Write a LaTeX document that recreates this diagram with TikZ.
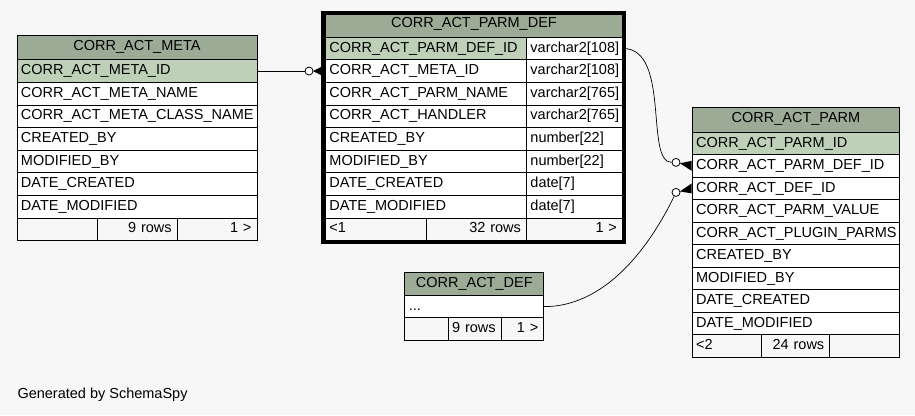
\documentclass[tikz,border=0pt]{standalone}
\usepackage{fontspec}
\setmainfont{Liberation Sans}
\usetikzlibrary{calc}
\definecolor{bgc}{HTML}{F7F7F7}
\definecolor{hdr}{HTML}{9BAB96}
\definecolor{pkc}{HTML}{BED1B8}
\newcommand\cellfont{\fontsize{14.5}{17}\selectfont}
\begin{document}
\begin{tikzpicture}[x=1pt,y=-1pt,
 cell/.style={draw=black, line width=0.9pt, anchor=north west, inner xsep=4pt, inner ysep=0pt, text height=15pt, text depth=7.6pt, font=\cellfont, fill=white, align=left},
 hdrcell/.style={cell, fill=hdr, align=center},
 pkcell/.style={cell, fill=pkc},
 footr/.style={cell, fill=bgc, align=right, inner xsep=5.5pt},
 footl/.style={cell, fill=bgc},
 odot/.style={circle, draw=black, fill=white, line width=0.8pt, inner sep=0pt, minimum size=8pt},
 link/.style={draw=black, line width=0.7pt},
 crow/.style={fill=black}
]
\useasboundingbox (0,0) rectangle (915,415);
\fill[bgc] (0,0) rectangle (915,415);

% ---------------- CORR_ACT_META ----------------
\node[hdrcell, text width=232pt, text depth=9.3pt] (meta_h) at (16.5,35) {CORR\_ACT\_META};
\node[pkcell, text width=232pt] (meta_id) at (16.5,59.3) {CORR\_ACT\_META\_ID};
\node[cell, text width=232pt] (meta_name) at (16.5,81.9) {CORR\_ACT\_META\_NAME};
\node[cell, text width=232pt] (meta_class) at (16.5,104.5) {CORR\_ACT\_META\_CLASS\_NAME};
\node[cell, text width=232pt] (meta_cb) at (16.5,127.1) {CREATED\_BY};
\node[cell, text width=232pt] (meta_mb) at (16.5,149.7) {MODIFIED\_BY};
\node[cell, text width=232pt] (meta_dc) at (16.5,172.3) {DATE\_CREATED};
\node[cell, text width=232pt] (meta_dm) at (16.5,194.9) {DATE\_MODIFIED};
\node[footl, text width=72.2pt] (meta_f1) at (16.5,217.5) {};
\node[footr, text width=69pt] (meta_f2) at (96.7,217.5) {\llap{9 rows}};
\node[footr, text width=68.8pt] (meta_f3) at (176.7,217.5) {\llap{1 >}};

% ---------------- CORR_ACT_PARM_DEF ----------------
\node[hdrcell, text width=289pt, text height=13pt, text depth=9.4pt] (pdef_h) at (325,14.3) {CORR\_ACT\_PARM\_DEF};
\node[pkcell, text width=193pt] (pdef_id) at (325,36.7) {CORR\_ACT\_PARM\_DEF\_ID};
\node[cell, text width=88pt] (pdef_idt) at (526,36.7) {varchar2[108]};
\node[cell, text width=193pt] (pdef_meta) at (325,59.3) {CORR\_ACT\_META\_ID};
\node[cell, text width=88pt] (pdef_metat) at (526,59.3) {varchar2[108]};
\node[cell, text width=193pt] (pdef_name) at (325,81.9) {CORR\_ACT\_PARM\_NAME};
\node[cell, text width=88pt] (pdef_namet) at (526,81.9) {varchar2[765]};
\node[cell, text width=193pt] (pdef_hand) at (325,104.5) {CORR\_ACT\_HANDLER};
\node[cell, text width=88pt] (pdef_handt) at (526,104.5) {varchar2[765]};
\node[cell, text width=193pt] (pdef_cb) at (325,127.1) {CREATED\_BY};
\node[cell, text width=88pt] (pdef_cbt) at (526,127.1) {number[22]};
\node[cell, text width=193pt] (pdef_mb) at (325,149.7) {MODIFIED\_BY};
\node[cell, text width=88pt] (pdef_mbt) at (526,149.7) {number[22]};
\node[cell, text width=193pt] (pdef_dc) at (325,172.3) {DATE\_CREATED};
\node[cell, text width=88pt] (pdef_dct) at (526,172.3) {date[7]};
\node[cell, text width=193pt] (pdef_dm) at (325,194.9) {DATE\_MODIFIED};
\node[cell, text width=88pt] (pdef_dmt) at (526,194.9) {date[7]};
\node[footl, text width=92.7pt] (pdef_f1) at (325,217.5) {<1};
\node[footr, text width=89.3pt] (pdef_f2) at (425.7,217.5) {\llap{32 rows}};
\node[footr, text width=85pt] (pdef_f3) at (526,217.5) {\llap{1 >}};
\draw[line width=3.6pt] (323.2,12.5) rectangle (623.8,242.2);

% ---------------- CORR_ACT_PARM ----------------
\node[hdrcell, text width=199.6pt, text depth=9.4pt] (parm_h) at (691.7,107.3) {CORR\_ACT\_PARM};
\node[pkcell, text width=199.6pt, text depth=7.5pt] (parm_id) at (691.7,131.7) {CORR\_ACT\_PARM\_ID};
\node[cell, text width=199.6pt, text depth=7.5pt] (parm_pdefid) at (691.7,154.2) {CORR\_ACT\_PARM\_DEF\_ID};
\node[cell, text width=199.6pt, text depth=7.5pt] (parm_defid) at (691.7,176.7) {CORR\_ACT\_DEF\_ID};
\node[cell, text width=199.6pt, text depth=7.5pt] (parm_val) at (691.7,199.2) {CORR\_ACT\_PARM\_VALUE};
\node[cell, text width=199.6pt, text depth=7.5pt] (parm_plug) at (691.7,221.7) {CORR\_ACT\_PLUGIN\_PARMS};
\node[cell, text width=199.6pt, text depth=7.5pt] (parm_cb) at (691.7,244.2) {CREATED\_BY};
\node[cell, text width=199.6pt, text depth=7.5pt] (parm_mb) at (691.7,266.7) {MODIFIED\_BY};
\node[cell, text width=199.6pt, text depth=7.5pt] (parm_dc) at (691.7,289.2) {DATE\_CREATED};
\node[cell, text width=199.6pt, text depth=7.5pt] (parm_dm) at (691.7,311.7) {DATE\_MODIFIED};
\node[footl, text width=61pt, text depth=7.5pt] (parm_f1) at (691.7,334.2) {<2};
\node[footr, text width=57.6pt, text depth=7.5pt] (parm_f2) at (760.7,334.2) {\llap{24 rows}};
\node[footl, text width=62pt, text depth=7.5pt] (parm_f3) at (829.3,334.2) {};

% ---------------- CORR_ACT_DEF ----------------
\node[hdrcell, text width=131pt, text depth=8.3pt] (def_h) at (404.3,271.7) {CORR\_ACT\_DEF};
\node[cell, text width=131pt, text depth=7.3pt] (def_dots) at (404.3,295) {...};
\node[footl, text width=36pt, text depth=7.7pt] (def_f1) at (404.3,317.3) {};
\node[footr, text width=41.4pt, text depth=7.7pt] (def_f2) at (448.3,317.3) {\llap{9 rows}};
\node[footr, text width=31.6pt, text depth=7.7pt] (def_f3) at (500.7,317.3) {\llap{1 >}};

% ---------------- connectors ----------------
\node[odot] (c1) at ($(pdef_meta.west)+(-16,0)$) {};
\draw[link] (meta_id.east) -- (c1);
\fill[crow] ($(c1)!4pt!(pdef_meta.west)$) -- ($(pdef_meta.west)+(-3,-4.5)$) -- ($(pdef_meta.west)+(-3,4.5)$) -- cycle;

\node[odot] (c2) at ($(parm_pdefid.west)+(-15.7,-3.5)$) {};
\draw[link] (pdef_idt.east) .. controls +(48,0) and +(-27,0) .. (c2.west);
\fill[crow] ($(c2)!4pt!(parm_pdefid.west)$) -- ($(parm_pdefid.west)+(0,-5)$) -- ($(parm_pdefid.west)+(0,5)$) -- cycle;

\node[odot] (c3) at ($(parm_defid.west)+(-15.7,4)$) {};
\draw[link] (def_dots.east) .. controls +(67,0) and +(-21,43.5) .. (c3);
\fill[crow] ($(c3)!4pt!(parm_defid.west)$) -- ($(parm_defid.west)+(0,-5)$) -- ($(parm_defid.west)+(0,5)$) -- cycle;

\node[anchor=base west, font=\cellfont, inner sep=0pt] (gen) at (17.3,398.3) {Generated by SchemaSpy};
\end{tikzpicture}
\end{document}
